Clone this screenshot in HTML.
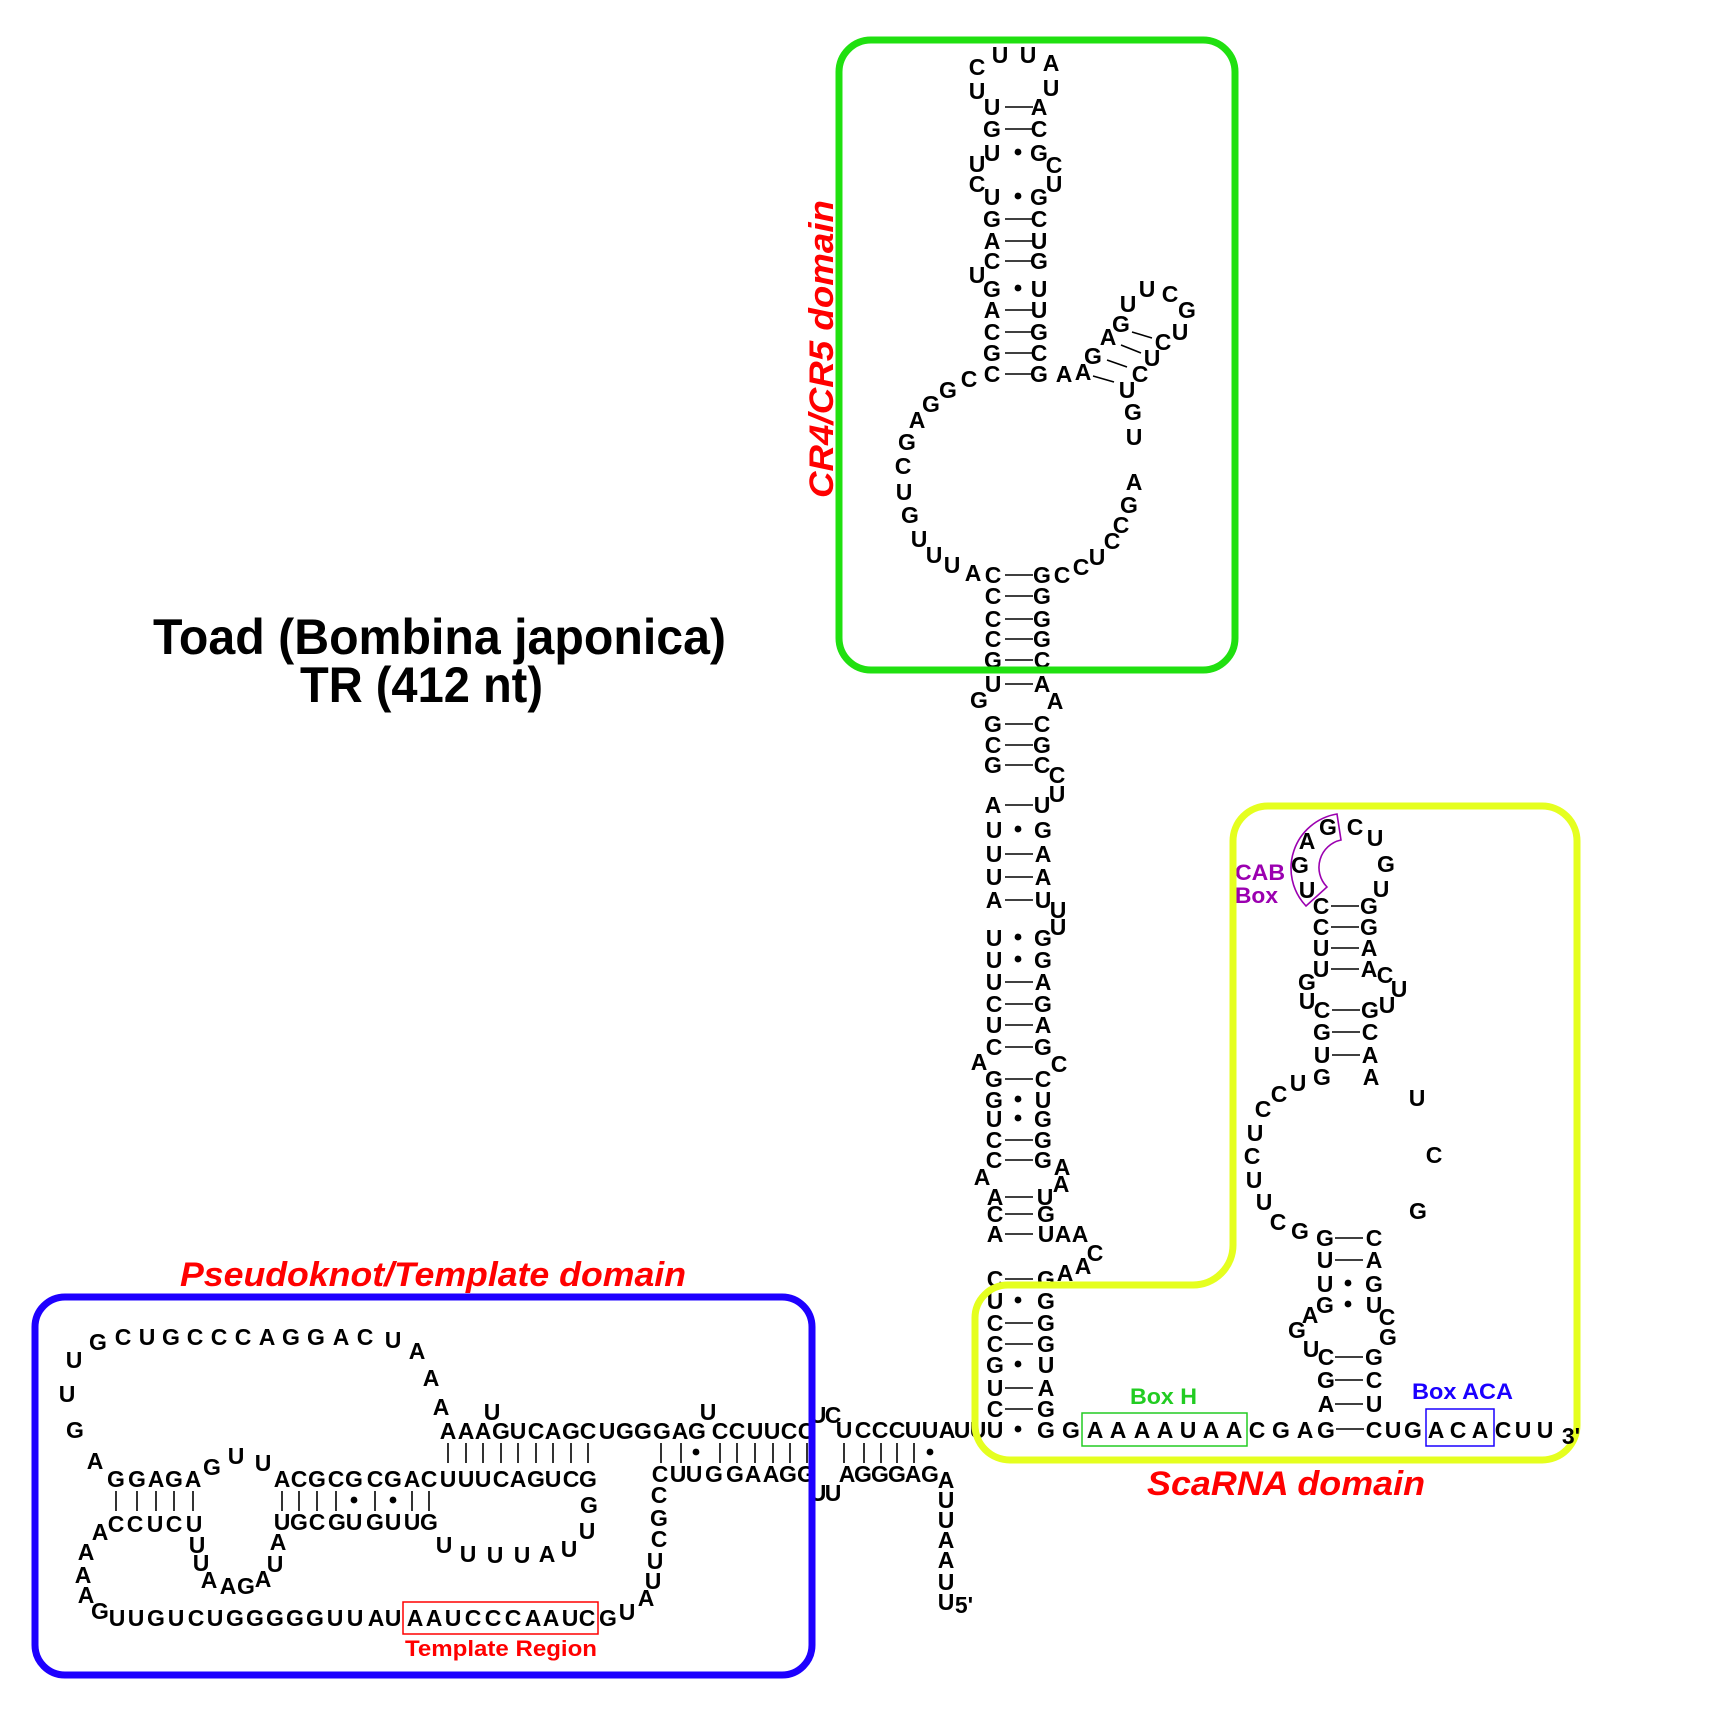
<!DOCTYPE html>
<html>
<head>
<meta charset="utf-8">
<style>
html,body{margin:0;padding:0;background:#fff;}
svg{display:block;}
.n{font-family:"Liberation Sans",Arial,sans-serif;font-weight:bold;font-size:23px;text-anchor:middle;fill:#000;}
.t{font-family:"Liberation Sans",Arial,sans-serif;font-weight:bold;fill:#000;}
.d{font-family:"Liberation Sans",Arial,sans-serif;font-weight:bold;font-style:italic;font-size:34px;fill:#ff0000;}
.s{font-family:"Liberation Sans",Arial,sans-serif;font-weight:bold;font-size:22px;}
.l{stroke:#000;stroke-width:1.6;fill:none;}
</style>
</head>
<body>
<svg width="1728" height="1728" viewBox="0 0 1728 1728" xmlns="http://www.w3.org/2000/svg">
<rect width="1728" height="1728" fill="#fff"/>

<!-- Title -->
<text class="t" x="153" y="654" font-size="50" textLength="573" lengthAdjust="spacingAndGlyphs">Toad (Bombina japonica)</text>
<text class="t" x="300" y="702" font-size="50" textLength="243" lengthAdjust="spacingAndGlyphs">TR (412 nt)</text>

<!-- Domain labels -->
<text class="d" x="180" y="1286" textLength="506" lengthAdjust="spacingAndGlyphs">Pseudoknot/Template domain</text>
<text class="d" x="1147" y="1495" textLength="278" lengthAdjust="spacingAndGlyphs">ScaRNA domain</text>
<text class="d" transform="translate(833,498) rotate(-90)" x="0" y="0" textLength="298" lengthAdjust="spacingAndGlyphs">CR4/CR5 domain</text>

<!-- ===== CR4/CR5 top hairpin ===== -->
<text class="n" x="977" y="75">C</text>
<text class="n" x="1000 1028" y="63">UU</text>
<text class="n" x="1051" y="71">A</text>
<text class="n" x="977" y="99">U</text>
<text class="n" x="1051" y="96">U</text>
<text class="n" x="992 1039" y="115">UA</text>
<text class="n" x="992 1039" y="137">GC</text>
<text class="n" x="992 1039" y="161">UG</text>
<text class="n" x="977" y="172">U</text>
<text class="n" x="977" y="192">C</text>
<text class="n" x="1054" y="173">C</text>
<text class="n" x="1054" y="192">U</text>
<text class="n" x="992 1039" y="205">UG</text>
<text class="n" x="992 1039" y="227">GC</text>
<text class="n" x="992 1039" y="249">AU</text>
<text class="n" x="992 1039" y="269">CG</text>
<text class="n" x="977" y="283">U</text>
<text class="n" x="992 1039" y="297">GU</text>
<text class="n" x="992 1039" y="318">AU</text>
<text class="n" x="992 1039" y="340">CG</text>
<text class="n" x="992 1039" y="361">GC</text>
<text class="n" x="992 1039" y="382">CG</text>
<text class="n" x="1064" y="382">A</text>
<text class="n" x="1083" y="380">A</text>

<!-- small hairpin -->
<text class="n" x="1093" y="364">G</text>
<text class="n" x="1108" y="345">A</text>
<text class="n" x="1121" y="332">G</text>
<text class="n" x="1128" y="312">U</text>
<text class="n" x="1147" y="297">U</text>
<text class="n" x="1170" y="302">C</text>
<text class="n" x="1187" y="318">G</text>
<text class="n" x="1180" y="340">U</text>
<text class="n" x="1163" y="350">C</text>
<text class="n" x="1152" y="366">U</text>
<text class="n" x="1140" y="382">C</text>
<text class="n" x="1127" y="398">U</text>
<text class="n" x="1133" y="420">G</text>
<text class="n" x="1134" y="445">U</text>
<path class="l" d="M1132 332L1152 338M1121 345L1141 353M1107 360L1127 367M1093 376L1114 382"/>

<!-- big loop -->
<text class="n" x="969" y="387">C</text>
<text class="n" x="948" y="398">G</text>
<text class="n" x="931" y="412">G</text>
<text class="n" x="917" y="428">A</text>
<text class="n" x="907" y="450">G</text>
<text class="n" x="903" y="474">C</text>
<text class="n" x="904" y="500">U</text>
<text class="n" x="910" y="523">G</text>
<text class="n" x="919" y="547">U</text>
<text class="n" x="934" y="563">U</text>
<text class="n" x="952" y="573">U</text>
<text class="n" x="973" y="581">A</text>
<text class="n" x="1134" y="490">A</text>
<text class="n" x="1129" y="513">G</text>
<text class="n" x="1121" y="533">C</text>
<text class="n" x="1112" y="549">C</text>
<text class="n" x="1097" y="565">U</text>
<text class="n" x="1081" y="575">C</text>
<text class="n" x="1062" y="583">C</text>

<!-- main stem middle -->
<text class="n" x="993 1042" y="583">CG</text>
<text class="n" x="993 1042" y="604">CG</text>
<text class="n" x="993 1042" y="627">CG</text>
<text class="n" x="993 1042" y="647">CG</text>
<text class="n" x="993 1042" y="668">GC</text>
<text class="n" x="993 1042" y="692">UA</text>
<text class="n" x="979" y="708">G</text>
<text class="n" x="1055" y="709">A</text>
<text class="n" x="993 1042" y="732">GC</text>
<text class="n" x="993 1042" y="753">CG</text>
<text class="n" x="993 1042" y="773">GC</text>
<text class="n" x="1057" y="783">C</text>
<text class="n" x="1057" y="802">U</text>
<text class="n" x="993 1042" y="813">AU</text>
<text class="n" x="994 1043" y="838">UG</text>
<text class="n" x="994 1043" y="862">UA</text>
<text class="n" x="994 1043" y="885">UA</text>
<text class="n" x="994 1043" y="908">AU</text>
<text class="n" x="1058" y="918">U</text>
<text class="n" x="1058" y="935">U</text>
<text class="n" x="994 1043" y="946">UG</text>
<text class="n" x="994 1043" y="968">UG</text>
<text class="n" x="994 1043" y="990">UA</text>
<text class="n" x="994 1043" y="1012">CG</text>
<text class="n" x="994 1043" y="1033">UA</text>
<text class="n" x="994 1043" y="1055">CG</text>
<text class="n" x="979" y="1070">A</text>
<text class="n" x="1059" y="1072">C</text>
<text class="n" x="994 1043" y="1087">GC</text>
<text class="n" x="994 1043" y="1108">GU</text>
<text class="n" x="994 1043" y="1127">UG</text>
<text class="n" x="994 1043" y="1148">CG</text>
<text class="n" x="994 1043" y="1168">CG</text>
<text class="n" x="1062" y="1175">A</text>
<text class="n" x="1061" y="1192">A</text>
<text class="n" x="982" y="1185">A</text>
<text class="n" x="995 1045" y="1205">AU</text>
<text class="n" x="995 1046" y="1222">CG</text>
<text class="n" x="995 1046" y="1242">AU</text>
<text class="n" x="1063 1080" y="1242">AA</text>
<text class="n" x="1095" y="1261">C</text>
<text class="n" x="1083" y="1274">A</text>
<text class="n" x="1065" y="1281">A</text>
<text class="n" x="995 1046" y="1287">CG</text>
<text class="n" x="995 1046" y="1309">UG</text>
<text class="n" x="995 1046" y="1331">CG</text>
<text class="n" x="995 1046" y="1352">CG</text>
<text class="n" x="995 1046" y="1373">GU</text>
<text class="n" x="995 1046" y="1396">UA</text>
<text class="n" x="995 1046" y="1417">CG</text>

<!-- main stem pairs -->
<path class="l" d="M1005 107H1033M1005 129H1033M1005 219H1033M1005 241H1033M1005 261H1033M1005 310H1033M1005 332H1033M1005 353H1033M1005 374H1033
M1005 575H1033M1005 596H1033M1005 619H1033M1005 639H1033M1005 660H1033M1005 684H1033M1005 724H1033M1005 745H1033M1005 765H1033M1005 805H1033
M1005 854H1033M1005 877H1033M1005 900H1033M1005 982H1033M1005 1004H1033M1005 1025H1033M1005 1047H1033M1005 1079H1033M1005 1140H1033M1005 1160H1033M1005 1197H1033M1005 1214H1033M1005 1234H1033
M1005 1279H1033M1005 1323H1033M1005 1344H1033M1005 1388H1033M1005 1409H1033"/>
<g fill="#000">
<circle cx="1018" cy="152" r="3.4"/><circle cx="1018" cy="196" r="3.4"/><circle cx="1018" cy="288" r="3.4"/>
<circle cx="1018" cy="829" r="3.4"/><circle cx="1018" cy="937" r="3.4"/><circle cx="1018" cy="959" r="3.4"/>
<circle cx="1018" cy="1099" r="3.4"/><circle cx="1018" cy="1118" r="3.4"/><circle cx="1018" cy="1300" r="3.4"/>
<circle cx="1018" cy="1364" r="3.4"/><circle cx="1018" cy="1429" r="3.4"/>
</g>

<!-- bottom baseline row -->
<text class="n" x="844 863 880 897 913 930 947 962 978 995" y="1438">UCCCUUAUUU</text>
<text class="n" x="1046 1071 1095 1118 1142 1165 1188 1211 1234 1257 1281 1305 1326" y="1438">GGAAAAUAACGAG</text>
<text class="n" x="1374 1393 1413 1436 1458 1480 1503 1523 1545" y="1438">CUGACACUU</text>

<!-- ===== ScaRNA hairpin ===== -->
<text class="n" x="1307" y="898">U</text>
<text class="n" x="1300" y="873">G</text>
<text class="n" x="1307" y="849">A</text>
<text class="n" x="1328" y="835">G</text>
<text class="n" x="1355" y="835">C</text>
<text class="n" x="1375" y="846">U</text>
<text class="n" x="1386" y="872">G</text>
<text class="n" x="1381" y="897">U</text>
<text class="n" x="1321 1369" y="914">CG</text>
<text class="n" x="1321 1369" y="935">CG</text>
<text class="n" x="1321 1369" y="956">UA</text>
<text class="n" x="1321 1369" y="977">UA</text>
<text class="n" x="1385" y="983">C</text>
<text class="n" x="1399" y="997">U</text>
<text class="n" x="1387" y="1013">U</text>
<text class="n" x="1307" y="990">G</text>
<text class="n" x="1307" y="1009">U</text>
<text class="n" x="1322 1370" y="1018">CG</text>
<text class="n" x="1322 1370" y="1040">GC</text>
<text class="n" x="1322 1370" y="1063">UA</text>
<text class="n" x="1322 1371" y="1085">GA</text>
<text class="n" x="1298" y="1091">U</text>
<text class="n" x="1279" y="1102">C</text>
<text class="n" x="1263" y="1117">C</text>
<text class="n" x="1255" y="1141">U</text>
<text class="n" x="1252" y="1164">C</text>
<text class="n" x="1254" y="1188">U</text>
<text class="n" x="1264" y="1210">U</text>
<text class="n" x="1278" y="1230">C</text>
<text class="n" x="1300" y="1239">G</text>
<text class="n" x="1417" y="1106">U</text>
<text class="n" x="1434" y="1163">C</text>
<text class="n" x="1418" y="1219">G</text>
<text class="n" x="1325 1374" y="1246">GC</text>
<text class="n" x="1325 1374" y="1268">UA</text>
<text class="n" x="1325 1374" y="1292">UG</text>
<text class="n" x="1325 1374" y="1313">GU</text>
<text class="n" x="1310" y="1323">A</text>
<text class="n" x="1297" y="1338">G</text>
<text class="n" x="1311" y="1357">U</text>
<text class="n" x="1387" y="1325">C</text>
<text class="n" x="1388" y="1345">G</text>
<text class="n" x="1326 1374" y="1365">CG</text>
<text class="n" x="1326 1374" y="1388">GC</text>
<text class="n" x="1326 1374" y="1412">AU</text>
<path class="l" d="M1331 906H1359M1331 927H1359M1331 948H1359M1331 969H1359M1332 1010H1360M1332 1032H1360M1332 1055H1360
M1335 1238H1363M1335 1260H1363M1335 1357H1363M1335 1380H1363M1335 1404H1363M1336 1429H1364"/>
<circle cx="1348" cy="1283" r="3.4" fill="#000"/>
<circle cx="1348" cy="1304" r="3.4" fill="#000"/>

<!-- CAB box -->
<path d="M1306,906 A55 55 0 0 1 1337,814 L1341,840 A28 28 0 0 0 1327,887 Z" fill="none" stroke="#9b00b0" stroke-width="1.6"/>
<text class="s" x="1235" y="880" fill="#9b00b0" textLength="50" lengthAdjust="spacingAndGlyphs">CAB</text>
<text class="s" x="1235" y="903" fill="#9b00b0" textLength="43" lengthAdjust="spacingAndGlyphs">Box</text>

<!-- Box H / Box ACA -->
<rect x="1082" y="1413" width="165" height="33" fill="none" stroke="#22cc22" stroke-width="1.5"/>
<text class="s" x="1130" y="1404" fill="#22cc22" textLength="67" lengthAdjust="spacingAndGlyphs">Box H</text>
<rect x="1426" y="1409" width="68" height="37" fill="none" stroke="#1a00ff" stroke-width="1.5"/>
<text class="s" x="1412" y="1399" fill="#1a00ff" textLength="101" lengthAdjust="spacingAndGlyphs">Box ACA</text>

<!-- ===== Pseudoknot / template ===== -->
<text class="n" x="98" y="1350">G</text>
<text class="n" x="123 147 171 195 219 243 267 291 316 341 365" y="1345">CUGCCCAGGAC</text>
<text class="n" x="393" y="1348">U</text>
<text class="n" x="417" y="1359">A</text>
<text class="n" x="431" y="1386">A</text>
<text class="n" x="441" y="1415">A</text>
<text class="n" x="74" y="1368">U</text>
<text class="n" x="67" y="1402">U</text>
<text class="n" x="75" y="1438">G</text>
<text class="n" x="95" y="1469">A</text>
<text class="n" x="116 137 156 174 193" y="1487">GGAGA</text>
<text class="n" x="212" y="1475">G</text>
<text class="n" x="236" y="1464">U</text>
<text class="n" x="263" y="1471">U</text>
<text class="n" x="282 299 317 336 354 375 393 412 429 448 466 483 501 518 536 553 571 588" y="1487">ACGCGCGACUUUCAGUCG</text>
<text class="n" x="116 135 155 174 194" y="1532">CCUCU</text>
<text class="n" x="100" y="1540">A</text>
<text class="n" x="282 299 317 337 354 375 393 412 429" y="1530">UGCGUGUUG</text>
<text class="n" x="86" y="1560">A</text>
<text class="n" x="83" y="1583">A</text>
<text class="n" x="86" y="1603">A</text>
<text class="n" x="100" y="1619">G</text>
<text class="n" x="197" y="1553">U</text>
<text class="n" x="201" y="1571">U</text>
<text class="n" x="209" y="1588">A</text>
<text class="n" x="228 246" y="1594">AG</text>
<text class="n" x="263" y="1587">A</text>
<text class="n" x="275" y="1572">U</text>
<text class="n" x="278" y="1550">A</text>
<text class="n" x="117 136 156 176 196 215 235 255 275 295 315 335 355 376 393 415 434 453 473 493 513 533 551 570 587 608" y="1626">UUGUCUGGGGGUUAUAAUCCCAAUCG</text>
<text class="n" x="627" y="1620">U</text>
<text class="n" x="646" y="1606">A</text>
<text class="n" x="653" y="1589">U</text>
<text class="n" x="655" y="1569">U</text>
<text class="n" x="659" y="1547">C</text>
<text class="n" x="659" y="1526">G</text>
<text class="n" x="659" y="1503">C</text>
<text class="n" x="444" y="1553">U</text>
<text class="n" x="468" y="1562">U</text>
<text class="n" x="495 522" y="1563">UU</text>
<text class="n" x="547" y="1562">A</text>
<text class="n" x="569" y="1557">U</text>
<text class="n" x="587" y="1539">U</text>
<text class="n" x="589" y="1513">G</text>
<text class="n" x="448 466 483 501 518 536 553 571 588 607 625 643 662 680 697 720 737 755 772 789 806" y="1439">AAAGUCAGCUGGGAGCCUUCC</text>
<text class="n" x="492" y="1420">U</text>
<text class="n" x="708" y="1420">U</text>
<text class="n" x="818 833" y="1423">UC</text>
<text class="n" x="660 678 694 714 735 753 771 788 806 847 863 880 897 913 930" y="1482">CUUGGAAGGAGGGAG</text>
<text class="n" x="818 833" y="1501">UU</text>
<text class="n" x="946" y="1488">A</text>
<text class="n" x="946" y="1508">U</text>
<text class="n" x="946" y="1528">U</text>
<text class="n" x="946" y="1548">A</text>
<text class="n" x="946" y="1568">A</text>
<text class="n" x="946" y="1590">U</text>
<text class="n" x="946" y="1610">U</text>
<text class="n" x="964" y="1613">5'</text>

<path class="l" d="M116 1491V1511M137 1491V1511M156 1491V1511M174 1491V1511M193 1491V1511
M282 1491V1511M299 1491V1511M317 1491V1511M336 1491V1511M375 1491V1511M412 1491V1511M429 1491V1511
M448 1443V1463M466 1443V1463M483 1443V1463M501 1443V1463M518 1443V1463M536 1443V1463M553 1443V1463M571 1443V1463M588 1443V1463
M661 1443V1463M681 1443V1463M720 1443V1463M737 1443V1463M755 1443V1463M773 1443V1463M790 1443V1463M807 1443V1463
M844 1443V1463M864 1443V1463M881 1443V1463M897 1443V1463M914 1443V1463"/>
<g fill="#000">
<circle cx="354" cy="1500" r="3.4"/><circle cx="393" cy="1500" r="3.4"/>
<circle cx="696" cy="1452" r="3.4"/><circle cx="930" cy="1452" r="3.4"/>
</g>

<!-- Template region -->
<rect x="403" y="1602" width="195" height="32" fill="none" stroke="#ff0000" stroke-width="1.5"/>
<text class="s" x="405" y="1656" fill="#ff0000" textLength="192" lengthAdjust="spacingAndGlyphs">Template Region</text>

<!-- ===== Frames ===== -->
<rect x="839" y="40" width="396" height="630" rx="32" ry="32" fill="none" stroke="#20e010" stroke-width="7"/>
<rect x="35" y="1297" width="777" height="378" rx="30" ry="30" fill="none" stroke="#1e00ff" stroke-width="7"/>
<path d="M1008,1285 H1193 A40 40 0 0 0 1233,1245 V841 A35 35 0 0 1 1268,806 H1542 A35 35 0 0 1 1577,841 V1425 A35 35 0 0 1 1542,1460 H1010 A35 35 0 0 1 975,1425 V1318 A33 33 0 0 1 1008,1285 Z" fill="none" stroke="#e5ff1f" stroke-width="7"/>

<text class="n" x="1571" y="1444">3'</text>
</svg>
</body>
</html>
